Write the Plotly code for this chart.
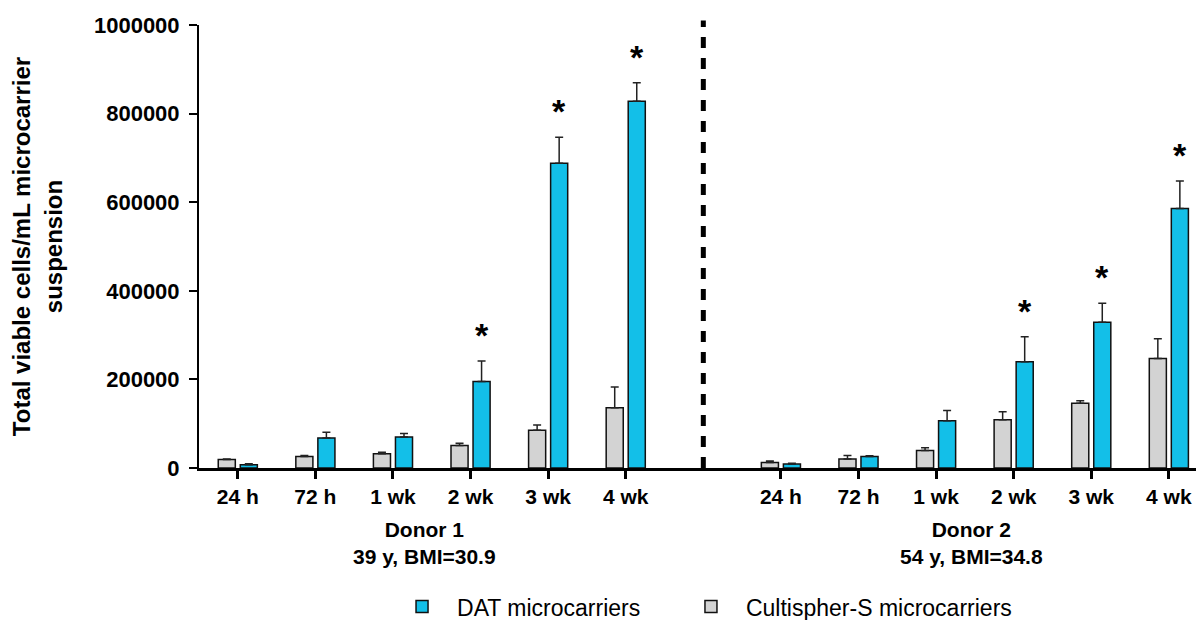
import plotly.graph_objects as go

# ---- data ----
time_labels = ["24 h", "72 h", "1 wk", "2 wk", "3 wk", "4 wk"]
donors = ["Donor 1<br>39 y, BMI=30.9", "Donor 2<br>54 y, BMI=34.8"]

cultispher_d1 = [19000, 26000, 32000, 51000, 85000, 136000]
cultispher_d1_err = [1500, 2000, 3500, 5000, 12000, 47000]
dat_d1 = [7500, 68000, 70000, 195500, 688000, 828000]
dat_d1_err = [2000, 12500, 8000, 46000, 58500, 41500]

cultispher_d2 = [12600, 20300, 39700, 109000, 146000, 247000]
cultispher_d2_err = [3000, 8000, 6000, 18000, 6000, 45000]
dat_d2 = [9000, 26200, 106800, 240000, 329000, 586000]
dat_d2_err = [2000, 1500, 23000, 56000, 43000, 62000]

significant = ["2 wk", "3 wk", "4 wk"]   # asterisks above DAT bars

# ---- layout constants ----
BLUE = "#13BFE8"
GRAY = "#D3D3D3"
FONT = "Liberation Sans, Arial, sans-serif"
BARGAP = 0.432
BARGROUPGAP = 0.225
XRANGE = [-0.5, 12.35]
SEP_POS = 6  # dashed separator between donors

pos_d1 = list(range(len(time_labels)))
pos_d2 = [p + len(time_labels) + 1 for p in pos_d1]
xpos = pos_d1 + pos_d2
ticktext = time_labels + time_labels

cult = cultispher_d1 + cultispher_d2
cult_err = cultispher_d1_err + cultispher_d2_err
dat = dat_d1 + dat_d2
dat_err = dat_d1_err + dat_d2_err

fig = go.Figure()
fig.add_trace(go.Bar(
    x=xpos, y=cult, name="Cultispher-S microcarriers", legend="legend2",
    marker=dict(color=GRAY, line=dict(color="#111111", width=1.5)),
    error_y=dict(type="data", array=cult_err, arrayminus=[0] * len(cult),
                 symmetric=False, color="#222222", thickness=1.5, width=4),
))
fig.add_trace(go.Bar(
    x=xpos, y=dat, name="DAT microcarriers", legend="legend",
    marker=dict(color=BLUE, line=dict(color="#111111", width=1.5)),
    error_y=dict(type="data", array=dat_err, arrayminus=[0] * len(dat),
                 symmetric=False, color="#222222", thickness=1.5, width=4),
))

# asterisks above the DAT bars
half_slot = (1 - BARGAP) / 4
for i, lab in enumerate(ticktext):
    if lab in significant:
        fig.add_annotation(
            x=xpos[i] + half_slot, y=dat[i] + dat_err[i], xref="x", yref="y",
            text="<b>*</b>", showarrow=False, yanchor="middle", yshift=26,
            font=dict(size=34, color="black", family=FONT),
        )

# donor labels
donor_centers = [sum(pos_d1) / len(pos_d1) - 0.1, sum(pos_d2) / len(pos_d2) - 0.05]
for xc, txt in zip(donor_centers, donors):
    fig.add_annotation(
        x=xc, y=-0.169, xref="x", yref="paper", text="<b>" + txt + "</b>",
        showarrow=False, yanchor="middle",
        font=dict(size=21, color="black", family=FONT),
    )

# dashed separator
sep_paper = (SEP_POS - XRANGE[0]) / (XRANGE[1] - XRANGE[0])
fig.add_shape(type="line", xref="paper", yref="paper",
              x0=sep_paper, x1=sep_paper, y0=0, y1=1.01,
              line=dict(color="black", width=5, dash="11px,10px"))

legend_common = dict(orientation="h", xanchor="left", y=-0.313, yanchor="middle",
                     font=dict(size=23, family=FONT, color="black"),
                     itemwidth=60, bgcolor="rgba(0,0,0,0)")

fig.update_layout(
    width=1196, height=620,
    margin=dict(l=199, r=0, t=25, b=152, autoexpand=False),
    plot_bgcolor="white", paper_bgcolor="white",
    barmode="group", bargap=BARGAP, bargroupgap=BARGROUPGAP,
    font=dict(family=FONT, color="black"),
    showlegend=True,
    legend=dict(x=0.1886, **legend_common),
    legend2=dict(x=0.4784, **legend_common),
)
fig.update_xaxes(
    range=XRANGE, tickmode="array", tickvals=xpos, ticktext=["<b>%s</b>" % t for t in ticktext],
    tickfont=dict(size=21, family=FONT, color="black"),
    showline=True, linecolor="black", linewidth=2.5,
    ticks="outside", ticklen=8, tickwidth=2.5, tickcolor="black",
    showgrid=False, zeroline=False,
)
fig.update_yaxes(
    range=[0, 1000000], tickmode="array",
    tickvals=[0, 200000, 400000, 600000, 800000, 1000000],
    ticktext=["<b>%d</b>" % v for v in [0, 200000, 400000, 600000, 800000, 1000000]],
    tickfont=dict(size=22, family=FONT, color="black"),
    ticklabelstandoff=5,
    showline=True, linecolor="black", linewidth=2,
    ticks="outside", ticklen=8, tickwidth=2, tickcolor="black",
    showgrid=False, zeroline=False,
    title=dict(text="<b>Total viable cells/mL microcarrier<br>suspension</b>",
               font=dict(size=24, family=FONT, color="black"), standoff=25),
)

fig.write_html("out.html", config={"displayModeBar": False})
